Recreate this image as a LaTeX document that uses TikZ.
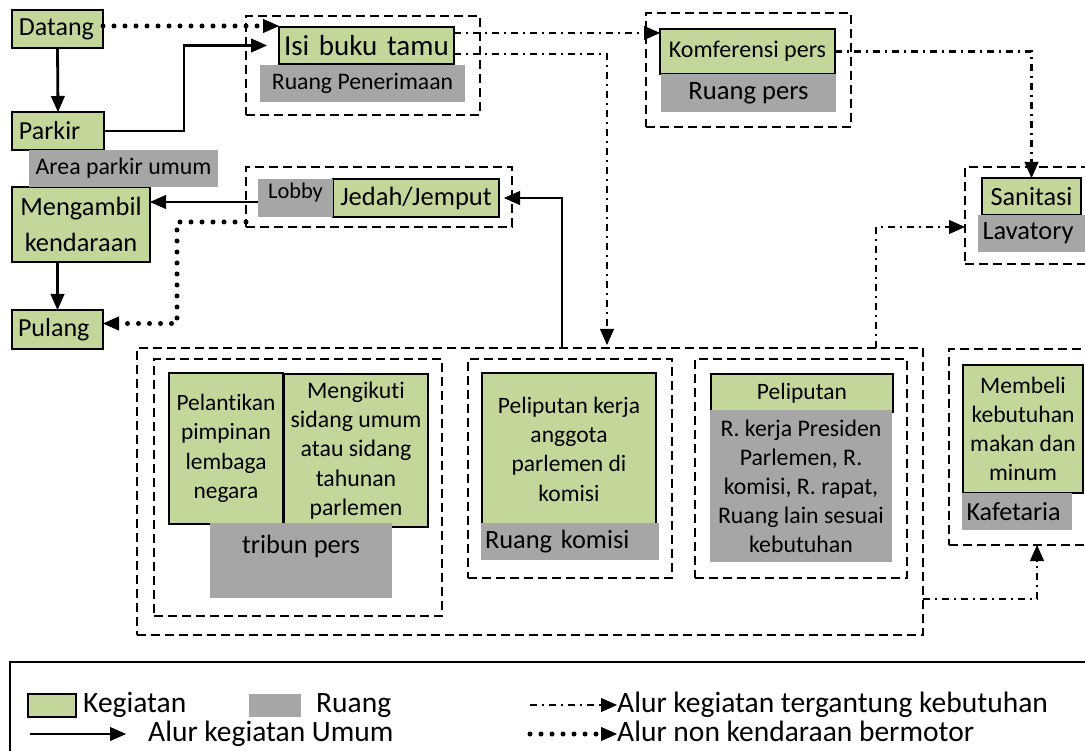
\documentclass[tikz,border=0pt]{standalone}
\usepackage{fontspec}
\setmainfont{Carlito}[RawFeature={-liga}]
\usetikzlibrary{arrows.meta}
\definecolor{kgreen}{RGB}{196,215,155}
\definecolor{rgray}{RGB}{166,166,166}
\newcommand\fsz[2]{\fontsize{#1}{#2}\selectfont}

\tikzset{
  box/.style={anchor=north west, inner sep=0pt, outer sep=0pt, align=center},
  keg/.style={box, draw=black, line width=1.7pt, fill=kgreen},
  ruang/.style={box, fill=rgray},
  grp/.style={box, draw=black, line width=2.2pt, dash pattern=on 9pt off 5pt},
  tip/.style={-{Triangle[length=16pt,width=14pt,line width=0.8pt]}},
  umum/.style={tip, line width=2.8pt},
  butuh/.style={tip, line width=2.2pt, dash pattern=on 7pt off 5pt on 2pt off 5pt},
  jalan/.style={tip, line width=5pt, line cap=round, dash pattern=on 0pt off 11pt},
  legtext/.style={anchor=base west, inner sep=0pt, font=\fsz{29.5}{35}},
}

\begin{document}
\begin{tikzpicture}[x=1pt, y=-1pt]
\useasboundingbox (0,0) rectangle (1085,751);

% zone outlines (dashed)
\node[grp, minimum width=234pt, minimum height=99pt]  (isigrp)  at (246,16)  {};
\node[grp, minimum width=266pt, minimum height=60pt]  (lobgrp)  at (246,167) {};
\node[grp, minimum width=205pt, minimum height=114pt] (komgrp)  at (646,13)  {};
\node[grp, minimum width=140pt, minimum height=97pt]  (sangrp)  at (965,167) {};
\node[grp, minimum width=786pt, minimum height=287pt] (outer)   at (137,348) {};
\node[grp, minimum width=288pt, minimum height=257pt] (tribgrp) at (154,359) {};
\node[grp, minimum width=204pt, minimum height=219pt] (kmsgrp)  at (468,359) {};
\node[grp, minimum width=212pt, minimum height=219pt] (pelgrp)  at (695,359) {};
\node[grp, minimum width=150pt, minimum height=196pt] (kafgrp)  at (949,349) {};

% activities (green)
\node[keg, minimum width=91pt, minimum height=38pt, text width=77pt, inner xsep=7pt, align=left, font=\fsz{26}{31}] (datang) at (12,10) {Datang};
\node[keg, minimum width=92pt, minimum height=38pt, text width=78pt, inner xsep=7pt, align=left, font=\fsz{26}{31}] (parkir) at (12,112) {Parkir};
\node[keg, minimum width=175pt, minimum height=37pt, text width=165pt, inner xsep=5pt, align=left, font=\fsz{29}{34}] (isi) at (279,27) {Isi buku tamu};
\node[keg, minimum width=138pt, minimum height=75pt, font=\fsz{26.4}{36.7}] (meng) at (12,187) {Mengambil\\kendaraan};
\node[keg, minimum width=91pt, minimum height=39pt, text width=79pt, inner xsep=6pt, align=left, font=\fsz{26}{31}] (pulang) at (12,310) {Pulang};
\node[keg, minimum width=166pt, minimum height=38pt, font=\fsz{26.5}{31}] (jedah) at (333,179) {Jedah/Jemput};
\node[keg, minimum width=175pt, minimum height=45pt, font=\fsz{24}{29}] (komf) at (660,29) {Komferensi pers};
\node[keg, minimum width=99pt, minimum height=37pt, font=\fsz{26.3}{31}] (sanit) at (982,178) {Sanitasi};
\node[keg, minimum width=114pt, minimum height=151pt, font=\fsz{23.4}{29.3}] (pelan) at (169,373) {Pelantikan\\pimpinan\\lembaga\\negara};
\node[keg, minimum width=144pt, minimum height=153pt, font=\fsz{23.8}{29.3}] (mengik) at (284,374) {Mengikuti\\sidang umum\\atau sidang\\tahunan\\parlemen};
\node[keg, minimum width=174pt, minimum height=152pt, font=\fsz{23.5}{29.3}] (pelk) at (482,373) {Peliputan kerja\\anggota\\parlemen di\\komisi};
\node[keg, minimum width=182pt, minimum height=38pt, font=\fsz{23.5}{29}] (pel) at (711,374) {Peliputan};
\node[keg, minimum width=120pt, minimum height=128pt, font=\fsz{23.6}{29}] (memb) at (963,365) {Membeli\\kebutuhan\\makan dan\\minum};

% rooms (grey)
\node[ruang, minimum width=189pt, minimum height=37pt, font=\fsz{23.8}{29}] (areap) at (29,150) {Area parkir umum};
\node[ruang, minimum width=205pt, minimum height=37pt, font=\fsz{23.7}{29}] (rpen) at (260,65) {Ruang Penerimaan};
\node[ruang, minimum width=75pt, minimum height=38pt, text height=20pt, text depth=18pt, font=\fsz{22.4}{27}] (lobby) at (258,179) {Lobby};
\node[ruang, minimum width=175pt, minimum height=38pt, font=\fsz{26.6}{31}] (rpers) at (661,74) {Ruang pers};
\node[ruang, minimum width=105pt, minimum height=37pt, text width=100.5pt, inner xsep=4.5pt, align=left, font=\fsz{26.4}{31}] (lav) at (978,215) {Lavatory};
\node[ruang, minimum width=182pt, minimum height=75pt, text height=30pt, text depth=45pt, font=\fsz{26.4}{31}] (tribun) at (210,523) {tribun pers};
\node[ruang, minimum width=174pt, minimum height=37pt, text width=170pt, inner xsep=4pt, align=left, font=\fsz{26.4}{31}] (rkom) at (481,523) {Ruang komisi};
\node[ruang, minimum width=182pt, minimum height=152pt, font=\fsz{23.8}{29}] (rker) at (710,410) {R. kerja Presiden\\Parlemen, R.\\komisi, R. rapat,\\Ruang lain sesuai\\kebutuhan};
\node[ruang, minimum width=105pt, minimum height=37pt, text width=100.5pt, inner xsep=4.5pt, align=left, font=\fsz{26.1}{31}] (kaf) at (962,493) {Kafetaria};

% general flow
\draw[umum] (datang.south) -- (parkir.north);
\draw[umum] (pulang.north |- meng.south) -- (pulang.north);
\coordinate (xpk) at (184,0);
\draw[umum, shorten >=12pt] (parkir.east) -| (xpk |- isi.west) -- (isi.west);
\coordinate (lb1) at ([yshift=-4pt]lobby.west);
\draw[umum] (lb1) -- (lb1 -| meng.east);
\coordinate (xjd) at (562,0);
\draw[umum, shorten >=5pt] (xjd |- outer.north) |- (jedah.east);

% non-motorised flow
\coordinate (dt1) at ([yshift=3pt]datang.east);
\draw[jalan] (dt1) -- (dt1 -| isi.west);
\coordinate (lb2) at ([yshift=-25pt]lobgrp.west);
\coordinate (xlb) at (177,0);
\coordinate (pl1) at ([yshift=6pt]pulang.east);
\draw[jalan] (lb2) -| (xlb |- pl1) -- (pl1);

% flow depending on need
\coordinate (is1) at ([yshift=12.5pt]isi.east);
\draw[butuh] (is1) -- (is1 -| komf.west);
\coordinate (is2) at ([yshift=-8.5pt]isi.east);
\coordinate (xkm) at (607,0);
\draw[butuh, shorten >=3pt] (is2) -| (xkm |- outer.north);
\draw[butuh] (komf.east) -| (sanit.north);
\coordinate (xlv) at (876,0);
\coordinate (lv1) at ([yshift=6.5pt]lav.west);
\draw[butuh] (xlv |- outer.north) |- (lv1 -| sangrp.west);
\coordinate (ou1) at ([yshift=-107.5pt]outer.east);
\coordinate (xkf) at (1037,0);
\draw[butuh] (ou1) -| (xkf |- kafgrp.south);

% legend
\node[box, draw=black, line width=1.5pt, minimum width=1090pt, minimum height=110pt] (legend) at (10,662) {};
\node[keg, minimum width=48pt, minimum height=23pt] (swk) at (28,694) {};
\node[ruang, minimum width=52pt, minimum height=23pt] (swr) at (249,694) {};
\node[legtext] (lk) at (83,712) {Kegiatan};
\node[legtext] (lr) at (316,712) {Ruang};
\node[legtext] (lb) at (617,712) {Alur kegiatan tergantung kebutuhan};
\node[legtext] (lu) at (148,741) {Alur kegiatan Umum};
\node[legtext] (ln) at (617,741) {Alur non kendaraan bermotor};
\coordinate (la1) at (530,705);
\coordinate (la2) at (30,734);
\coordinate (la3) at (530,734);
\draw[butuh] (la1) -- (la1 -| lb.west);
\draw[umum] (la2) -- ([xshift=-22pt]la2 -| lu.west);
\draw[jalan] (la3) -- (la3 -| ln.west);
\end{tikzpicture}
\end{document}
